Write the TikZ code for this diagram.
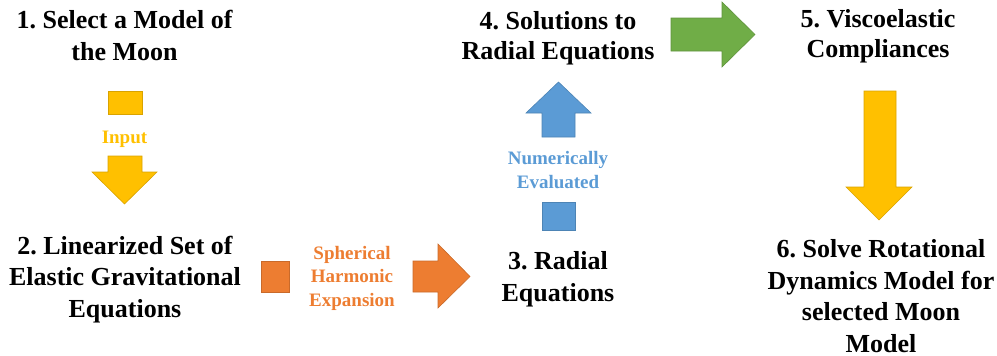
\documentclass[tikz,border=0pt]{standalone}
\usepackage{fontspec}
\setmainfont{Liberation Serif}
\frenchspacing
\definecolor{oro}{HTML}{FFC000}
\definecolor{naranja}{HTML}{ED7D31}
\definecolor{azul}{HTML}{5B9BD5}
\definecolor{verde}{HTML}{70AD47}
\tikzset{
  paso/.style={font=\fontsize{26}{31.5}\selectfont\bfseries, align=center, inner sep=0pt, anchor=base},
  pasoarriba/.style={paso, font=\fontsize{26}{30}\selectfont\bfseries},
  etiqueta/.style={font=\fontsize{19}{23.5}\selectfont\bfseries, align=center, inner sep=0pt, anchor=base},
  bloque/.style={fill=#1, draw=#1!85!black, line width=0.6pt, line join=miter}
}
\begin{document}
\begin{tikzpicture}[x=1pt, y=-1pt]
  \useasboundingbox (0,0) rectangle (997,356);
  % los pasos
  \node[paso] (modelo) at (124.5,60) {1. Select a Model of\\the Moon};
  \node[paso] (lineal) at (125,317) {2. Linearized Set of\\Elastic Gravitational\\Equations};
  \node[paso] (radial) at (558,301) {3. Radial\\Equations};
  \node[pasoarriba] (soluc) at (558,59) {4. Solutions to\\Radial Equations};
  \node[pasoarriba] (visco) at (878,57) {5. Viscoelastic\\Compliances};
  \node[paso] (rotac) at (881,352) {6. Solve Rotational\\Dynamics Model for\\selected Moon\\Model};
  % las etiquetas de las flechas
  \node[etiqueta, text=oro] (input) at (124.5,143) {Input};
  \node[etiqueta, text=naranja] (armon) at (352,306) {Spherical\\Harmonic\\Expansion};
  \node[etiqueta, text=azul] (numer) at (558,188) {Numerically\\Evaluated};
  % la flecha amarilla de arriba
  \draw[bloque=oro] (108,91) rectangle (142,114);
  \draw[bloque=oro] (108,156) -- (142,156) -- (142,172) -- (157,172) -- (124.5,204)
    -- (92,172) -- (108,172) -- cycle;
  % la flecha naranja
  \draw[bloque=naranja] (261,261) rectangle (289,292);
  \draw[bloque=naranja] (413,261) -- (438,261) -- (438,244) -- (470,276.5)
    -- (438,308) -- (438,292) -- (413,292) -- cycle;
  % la flecha azul
  \draw[bloque=azul] (542,202) rectangle (575,230);
  \draw[bloque=azul] (542,137) -- (542,113) -- (526,113) -- (558.5,82)
    -- (591,113) -- (575,113) -- (575,137) -- cycle;
  % la flecha verde
  \draw[bloque=verde] (671,18) -- (722,18) -- (722,2) -- (755,34.5)
    -- (722,67) -- (722,51) -- (671,51) -- cycle;
  % la flecha amarilla de la derecha
  \draw[bloque=oro] (864,91) -- (896,91) -- (896,187) -- (912,187) -- (879,220)
    -- (846,187) -- (864,187) -- cycle;
\end{tikzpicture}
\end{document}
